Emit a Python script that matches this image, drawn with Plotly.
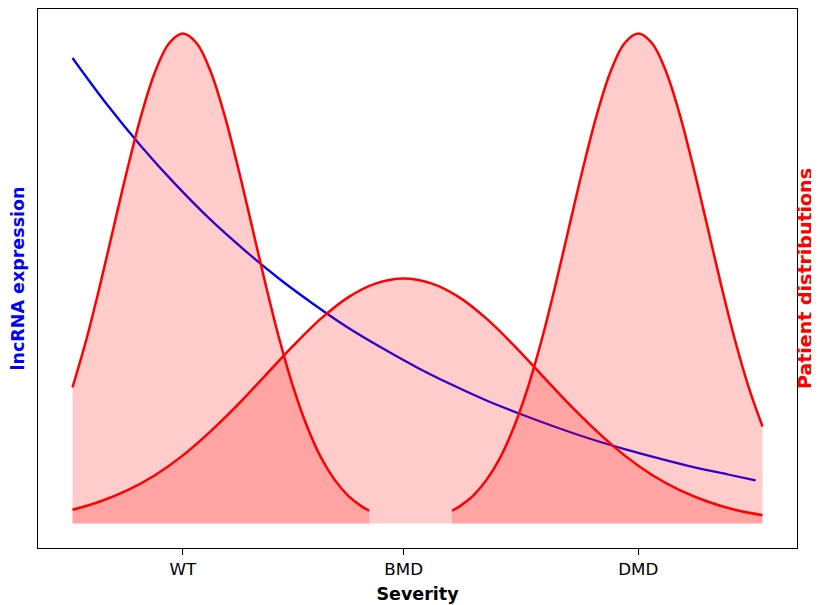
import plotly.graph_objects as go

# Severity axis categories (tick positions on a 0-10 severity scale)
categories = ["WT", "BMD", "DMD"]
category_pos = [1.6, 4.8, 8.2]

# lncRNA expression curve
expr_x = [0.0, 0.5, 1.0, 1.5, 2.0, 2.5, 3.0, 3.5, 4.0, 4.5, 5.0,
          5.5, 6.0, 6.5, 7.0, 7.5, 8.0, 8.5, 9.0, 9.5, 9.9]
expr_y = [0.950, 0.855, 0.769, 0.691, 0.620, 0.557, 0.499, 0.447, 0.399, 0.357, 0.318,
          0.283, 0.251, 0.223, 0.197, 0.173, 0.152, 0.133, 0.115, 0.100, 0.088]

# Patient distributions
wt_x = [0.0, 0.2, 0.4, 0.6, 0.8, 1.0, 1.2, 1.4, 1.6, 1.8, 2.0, 2.2,
        2.4, 2.6, 2.8, 3.0, 3.2, 3.4, 3.6, 3.8, 4.0, 4.2, 4.3]
wt_y = [0.278, 0.375, 0.487, 0.607, 0.726, 0.835, 0.923, 0.980, 1.000, 0.980, 0.923, 0.835,
        0.726, 0.607, 0.487, 0.375, 0.278, 0.198, 0.135, 0.089, 0.056, 0.034, 0.026]

bmd_x = [0.0, 0.4, 0.8, 1.2, 1.6, 2.0, 2.4, 2.8, 3.2, 3.6, 4.0, 4.4, 4.8,
         5.2, 5.6, 6.0, 6.4, 6.8, 7.2, 7.6, 8.0, 8.4, 8.8, 9.2, 9.6, 10.0]
bmd_y = [0.028, 0.045, 0.068, 0.099, 0.139, 0.188, 0.243, 0.303, 0.363, 0.418, 0.462, 0.490, 0.500,
         0.490, 0.462, 0.418, 0.363, 0.303, 0.243, 0.188, 0.139, 0.099, 0.068, 0.045, 0.028, 0.017]

dmd_x = [5.5, 5.6, 5.8, 6.0, 6.2, 6.4, 6.6, 6.8, 7.0, 7.2, 7.4, 7.6, 7.8,
         8.0, 8.2, 8.4, 8.6, 8.8, 9.0, 9.2, 9.4, 9.6, 9.8, 10.0]
dmd_y = [0.026, 0.034, 0.056, 0.089, 0.135, 0.198, 0.278, 0.375, 0.487, 0.607, 0.726, 0.835, 0.923,
         0.980, 1.000, 0.980, 0.923, 0.835, 0.726, 0.607, 0.487, 0.375, 0.278, 0.198]

FONT = "DejaVu Sans"
RED = "#ff0000"
BLUE = "#0000ff"
FILL = "rgba(255,0,0,0.2)"
TITLE_SIZE = 17.5

fig = go.Figure()

fig.add_trace(go.Scatter(
    x=expr_x, y=expr_y, mode="lines", yaxis="y",
    line=dict(color=BLUE, width=2.3, shape="spline"),
    showlegend=False, hoverinfo="skip"))

for xs, ys in [(wt_x, wt_y), (bmd_x, bmd_y), (dmd_x, dmd_y)]:
    fig.add_trace(go.Scatter(
        x=xs, y=ys, mode="lines", yaxis="y2",
        fill="tozeroy", fillcolor=FILL,
        line=dict(color=RED, width=2.5, shape="spline"),
        showlegend=False, hoverinfo="skip"))

# The page body adds an 8px margin, so the figure is sized to fit the window.
fig.update_layout(
    width=811, height=597,
    margin=dict(l=30, r=22, t=1, b=57, autoexpand=False),
    paper_bgcolor="white", plot_bgcolor="white",
    font=dict(family=FONT, size=16.7, color="black"),
    xaxis=dict(
        range=[-0.5, 10.5], automargin=False,
        tickmode="array", tickvals=category_pos, ticktext=categories,
        ticks="outside", ticklen=5.8, tickwidth=1.3, tickcolor="black",
        tickfont=dict(family=FONT, size=16.7, color="black"),
        showline=True, mirror=True, linecolor="black", linewidth=1.3,
        showgrid=False, zeroline=False,
        title=dict(text="Severity", standoff=9,
                   font=dict(family=FONT, size=TITLE_SIZE, color="black", weight="bold")),
    ),
    yaxis=dict(
        range=[-0.05, 1.05], automargin=False,
        showticklabels=False, ticks="",
        showline=True, mirror=True, linecolor="black", linewidth=1.3,
        showgrid=False, zeroline=False,
        title=dict(text="lncRNA expression", standoff=9,
                   font=dict(family=FONT, size=TITLE_SIZE, color=BLUE, weight="bold")),
    ),
    yaxis2=dict(
        range=[-0.05, 1.05], overlaying="y", side="right", automargin=False,
        showticklabels=False, ticks="",
        showline=False, showgrid=False, zeroline=False,
        title=dict(text="Patient distributions", standoff=1,
                   font=dict(family=FONT, size=19, color=RED, weight="bold")),
    ),
)

fig.write_html("out.html",
               post_script="document.documentElement.style.overflow='hidden';"
                           "document.body.style.overflow='hidden';")
